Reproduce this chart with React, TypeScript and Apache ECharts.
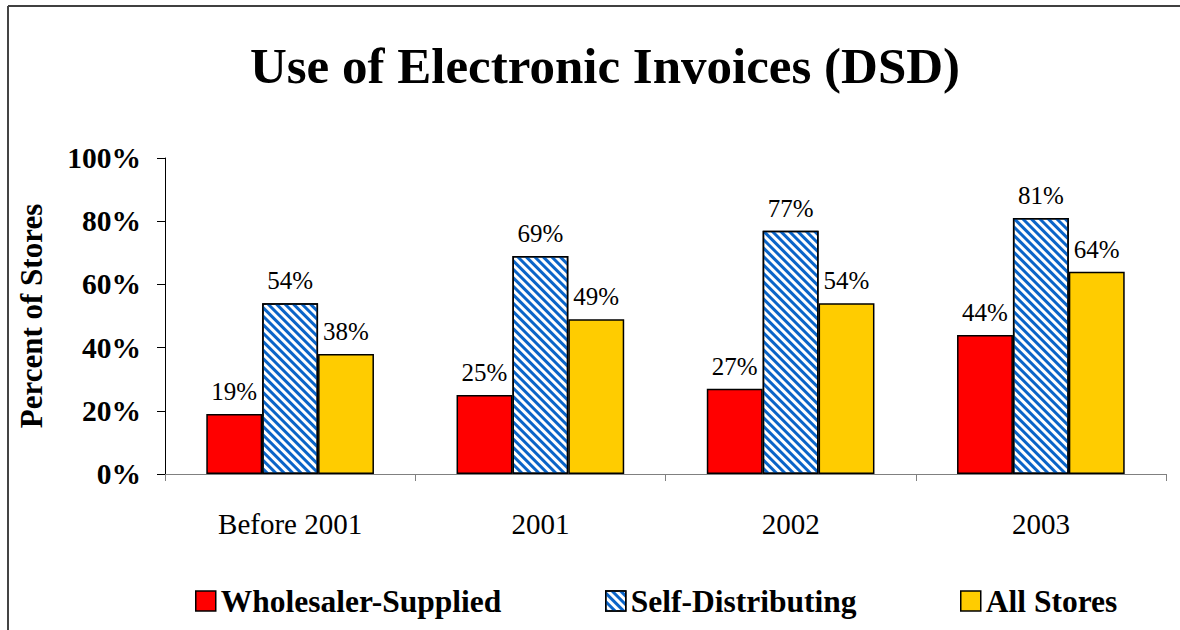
import React, { useEffect, useRef } from "react";
import * as echarts from "echarts";

const categories = ["Before 2001", "2001", "2002", "2003"];
const wholesaler = [19, 25, 27, 44];
const selfDist = [54, 69, 77, 81];
const allStores = [38, 49, 54, 64];
const seriesNames = ["Wholesaler-Supplied", "Self-Distributing", "All Stores"];

const FONT = "'Liberation Serif', 'Times New Roman', serif";

export default function App() {
  const ref = useRef<HTMLDivElement>(null);
  useEffect(() => {
    if (!ref.current) return;
    const chart = echarts.init(ref.current, null, { renderer: "svg" });
    const labelCfg = {
      show: true,
      position: "top",
      distance: 10,
      formatter: "{c}%",
      fontFamily: FONT,
      fontSize: 25,
      color: "#000",
    };
    const border = { borderColor: "#000", borderWidth: 1.5 };
    const legendBase = {
      top: 580,
      icon: "rect",
      itemWidth: 20,
      itemHeight: 20,
      itemGap: 8,
      itemStyle: { borderColor: "#000", borderWidth: 1.5 },
      textStyle: { fontFamily: FONT, fontSize: 31.5, fontWeight: "bold", color: "#000" },
    };
    chart.setOption({
      animation: false,
      backgroundColor: "#fff",
      title: {
        text: "Use of Electronic Invoices (DSD)",
        left: 600,
        textAlign: "center",
        top: 35,
        textStyle: { fontFamily: FONT, fontSize: 51, fontWeight: "bold", color: "#000" },
      },
      legend: [
        { ...legendBase, left: 190, data: [seriesNames[0]] },
        { ...legendBase, left: 600, data: [seriesNames[1]] },
        { ...legendBase, left: 955, data: [seriesNames[2]] },
      ],
      graphic: [
        { type: "line", shape: { x1: 8, y1: 6, x2: 1180, y2: 6 }, style: { stroke: "#000", lineWidth: 1.5 } },
        { type: "line", shape: { x1: 8, y1: 6, x2: 8, y2: 630 }, style: { stroke: "#444", lineWidth: 2 } },
      ],
      grid: { left: 165, right: 14, top: 158, bottom: 156 },
      xAxis: {
        type: "category",
        data: categories,
        axisLine: { lineStyle: { color: "#808080", width: 1 } },
        axisTick: { show: true, length: 7, lineStyle: { color: "#808080" } },
        axisLabel: { fontFamily: FONT, fontSize: 29, color: "#000", margin: 35 },
      },
      yAxis: {
        type: "value",
        min: 0,
        max: 100,
        interval: 20,
        name: "Percent of Stores",
        nameLocation: "middle",
        nameGap: 118,
        nameRotate: 90,
        nameTextStyle: { fontFamily: FONT, fontSize: 31, fontWeight: "bold", color: "#000" },
        axisLine: { show: true, lineStyle: { color: "#000", width: 1 } },
        axisTick: { show: true, length: 8, lineStyle: { color: "#000" } },
        splitLine: { show: false },
        axisLabel: {
          formatter: "{value}%",
          fontFamily: FONT,
          fontSize: 29.5,
          fontWeight: "bold",
          color: "#000",
          margin: 24,
        },
      },
      series: [
        {
          name: seriesNames[0],
          type: "bar",
          data: wholesaler,
          barGap: "0%",
          barCategoryGap: "33%",
          itemStyle: { color: "#FF0000", ...border },
          label: labelCfg,
        },
        {
          name: seriesNames[1],
          type: "bar",
          data: selfDist,
          barGap: "0%",
          barCategoryGap: "33%",
          itemStyle: {
            color: "#ffffff",
            ...border,
            decal: {
              symbol: "rect",
              symbolSize: 1,
              color: "#0A64C8",
              dashArrayX: [1, 0],
              dashArrayY: [3, 2.6],
              rotation: Math.PI / 4,
            },
          },
          label: labelCfg,
        },
        {
          name: seriesNames[2],
          type: "bar",
          data: allStores,
          barGap: "0%",
          barCategoryGap: "33%",
          itemStyle: { color: "#FFCC00", ...border },
          label: labelCfg,
        },
      ],
    });
    return () => chart.dispose();
  }, []);
  return <div ref={ref} style={{ width: 1180, height: 630, position: "absolute", left: 0, top: 0 }} />;
}
